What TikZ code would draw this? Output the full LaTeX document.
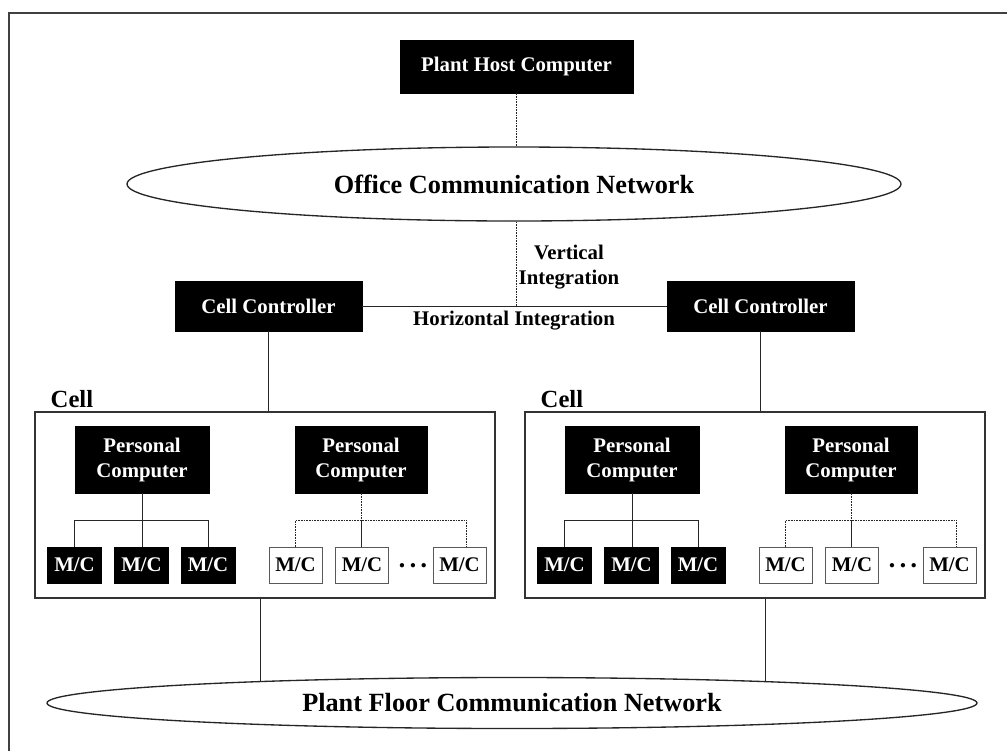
\documentclass[tikz,border=0pt]{standalone}
\usepackage{fontspec}
\setmainfont{Liberation Serif}
\usetikzlibrary{shapes.geometric,backgrounds}
\begin{document}
\begin{tikzpicture}[x=0.75pt,y=-0.75pt,
  every node/.style={font=\bfseries\fontsize{15.6}{18.75}\selectfont},
  blk/.style={draw=black, fill=black, text=white, inner sep=0pt, align=center},
  wht/.style={draw=black!65, fill=white, text=black, inner sep=0pt, line width=0.6pt},
  cellbox/.style={draw=black!80, line width=0.8pt, inner sep=0pt},
  net/.style={ellipse, draw=black!85, fill=white, line width=1pt, inner sep=0pt,
    font=\bfseries\fontsize{19.7}{23}\selectfont},
  wire/.style={line width=0.7pt, draw=black!85},
  dwire/.style={line width=0.7pt, draw=black!85, dash pattern=on 1.2pt off 0.8pt},
  frame/.style={line width=1.1pt, draw=black!75},
]
\useasboundingbox (0,0) rectangle (1007,751);

% outer frame (top and left edges)
\draw[frame] (9,751) -- (9,13) -- (1007,13);

% top level
\node[blk, minimum width=174.75pt, minimum height=39.75pt] (host) at (516.5,66.5) {Plant Host Computer};
\node[net, minimum width=580.5pt, minimum height=55.5pt] (office) at (514,184) {Office Communication Network};
\draw[dwire] (host.south) -- (host.south |- office.north);

% cell controllers
\node[blk, minimum width=140.25pt, minimum height=37.5pt] (ccL) at (268.5,306) {Cell Controller};
\node[blk, minimum width=140.25pt, minimum height=37.5pt] (ccR) at (760.5,306) {Cell Controller};
\draw[wire] (ccL.east) -- (ccR.west);
\coordinate (vx) at (office.south -| host.south);
\draw[dwire] (vx) -- (vx |- ccL.east);
\node[align=center] (vlab) at (569,267) {Vertical\\Integration};
\node (hlab) at (514,321) {Horizontal Integration};

% plant floor network
\node[net, minimum width=697.5pt, minimum height=38.25pt] (floor) at (512,703) {Plant Floor Communication Network};

% the two cells
\foreach \s/\d in {L/0,R/490} {
  \node[cellbox, minimum width=345pt, minimum height=139.5pt] (cell\s) at (265+\d,505) {};
  \node[anchor=base west, font=\bfseries\fontsize{18.5}{20}\selectfont] (cap\s) at (46+\d,407) {Cell};

  \node[blk, minimum width=100.5pt, minimum height=50.25pt] (pcA\s) at (142+\d,459.5) {Personal\\Computer};
  \node[blk, minimum width=99pt, minimum height=50.25pt] (pcB\s) at (361+\d,459.5) {Personal\\Computer};

  \node[blk, minimum width=40.5pt, minimum height=27pt] (ma1\s) at (74.5+\d,565) {M/C};
  \node[blk, minimum width=40.5pt, minimum height=27pt] (ma2\s) at (141.5+\d,565) {M/C};
  \node[blk, minimum width=40.5pt, minimum height=27pt] (ma3\s) at (208+\d,565) {M/C};

  \node[wht, minimum width=39.75pt, minimum height=27pt] (mb1\s) at (295.5+\d,565) {M/C};
  \node[wht, minimum width=39.75pt, minimum height=27pt] (mb2\s) at (362+\d,565) {M/C};
  \node[wht, minimum width=39.75pt, minimum height=27pt] (mb3\s) at (459.5+\d,565) {M/C};
  \node[font=\bfseries\fontsize{20}{20}\selectfont] (dots\s) at (413+\d,569) {·\kern1.5pt·\kern1.5pt·};

  % hard-wired machines
  \coordinate (bar\s) at (142+\d,520);
  \draw[wire] (pcA\s.south) -- (pcA\s.south |- ma2\s.north);
  \draw[wire] (ma1\s.north) -- (ma1\s.north |- bar\s) -- (ma3\s.north |- bar\s) -- (ma3\s.north);

  % loosely linked machines
  \coordinate (end\s) at ([xshift=5.25pt]mb3\s.north);
  \draw[dwire] (pcB\s.south) -- (pcB\s.south |- bar\s);
  \draw[dwire] (mb1\s.north) -- (mb1\s.north |- bar\s) -- (end\s |- bar\s) -- (end\s);
  \draw[wire] (pcB\s.south |- bar\s) -- (pcB\s.south |- mb2\s.north);
}

% cell controllers to cells
\draw[wire] (ccL.south) -- (ccL.south |- cellL.north);
\draw[wire] (ccR.south) -- (ccR.south |- cellR.north);

% cells to plant floor network
\begin{pgfonlayer}{background}
\coordinate (dropL) at ([xshift=-3.75pt]cellL.south);
\coordinate (dropR) at ([xshift=7.5pt]cellR.south);
\draw[wire] (dropL) -- (dropL |- floor.center);
\draw[wire] (dropR) -- (dropR |- floor.center);
\end{pgfonlayer}
\end{tikzpicture}
\end{document}
